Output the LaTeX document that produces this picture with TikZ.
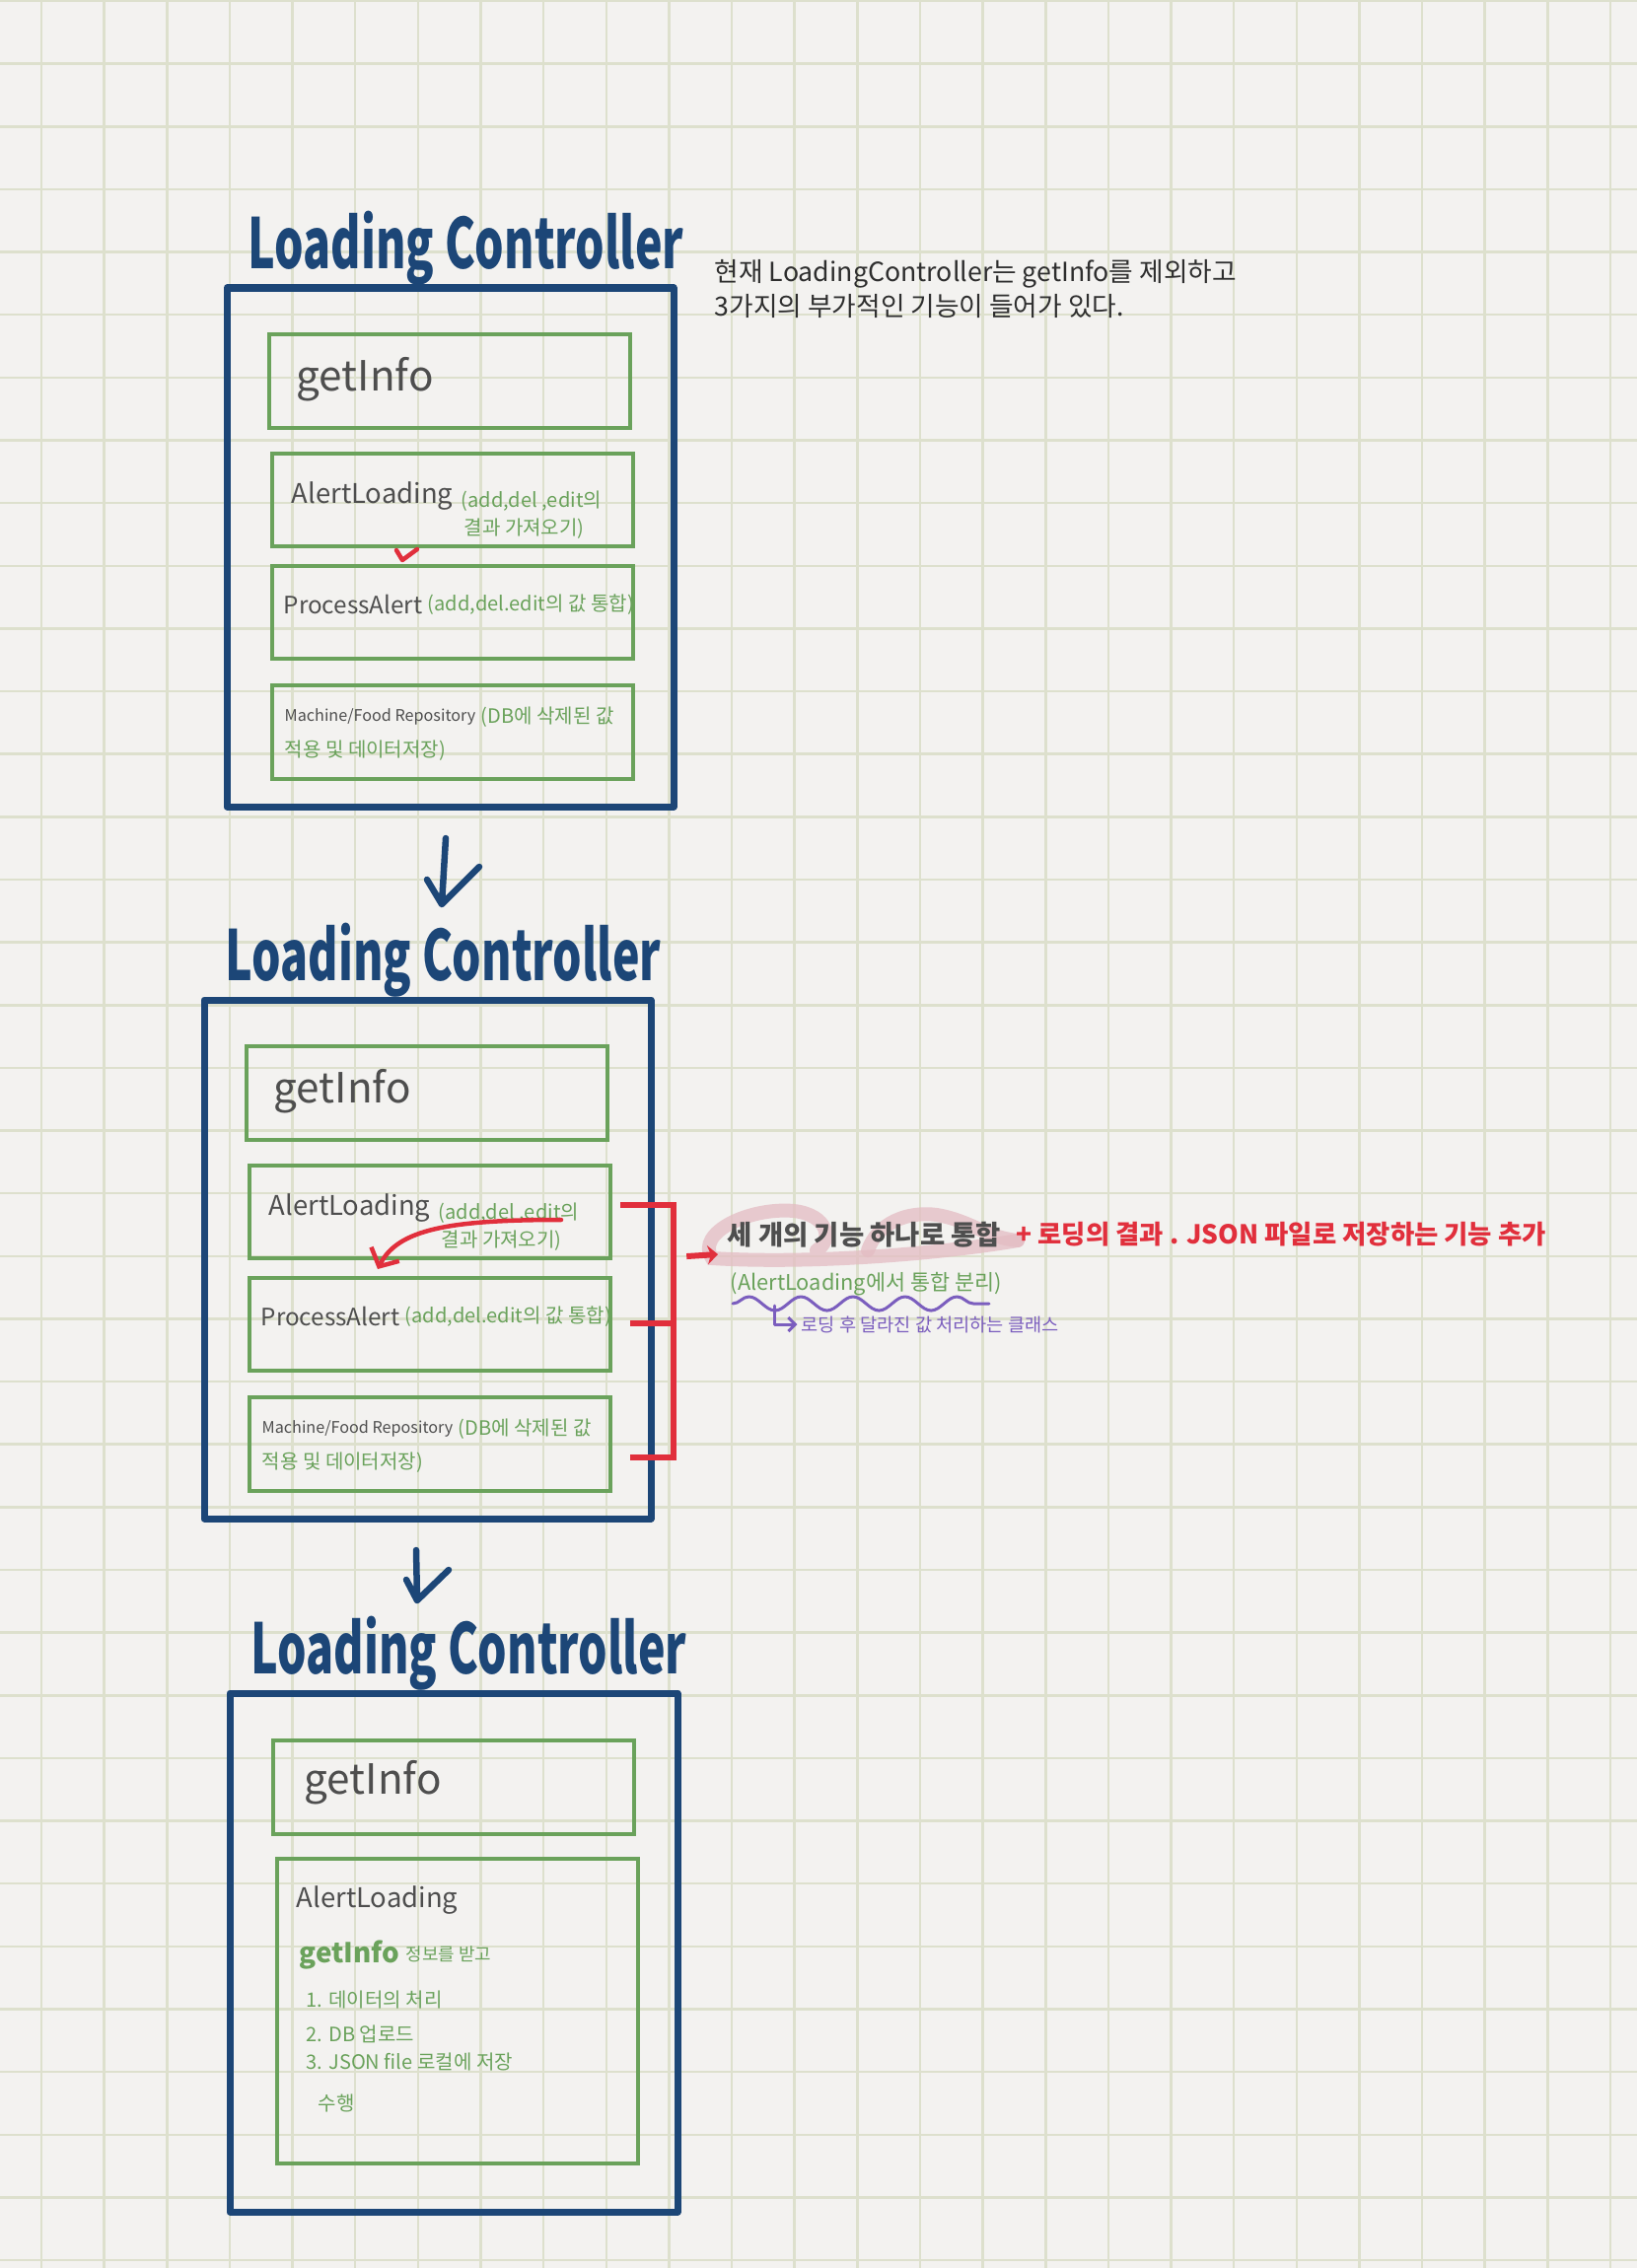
\documentclass[tikz,border=0pt]{standalone}
\usepackage{graphicx}
\usepackage{fontspec}
\setmainfont{Noto Sans CJK KR}
\usetikzlibrary{arrows.meta, positioning, decorations.pathmorphing}

\definecolor{paper}{HTML}{F3F2F0}
\definecolor{gridline}{HTML}{DDE0CD}
\definecolor{navy}{HTML}{1C4677}
\definecolor{leaf}{HTML}{6AA25B}
\definecolor{pencil}{HTML}{4E4E4E}
\definecolor{marker}{HTML}{E12F3C}
\definecolor{penviolet}{HTML}{7B5EBE}
\definecolor{blush}{HTML}{E4BCC3}
\definecolor{ink}{HTML}{2E2E2E}

\newcommand{\titlewords}{\scalebox{0.66}[1]{Loading Controller}}

\begin{document}
\begin{tikzpicture}[x=0.01cm,y=-0.01cm,
  sheet/.style={draw=gridline, line width=0.025cm},
  ctrlbox/.style={draw=navy, line width=0.07cm, line join=round},
  partbox/.style={draw=leaf, line width=0.04cm, anchor=north west, inner sep=0pt, minimum width=3.66cm, minimum height=0.94cm},
  handtitle/.style={anchor=base west, inner sep=0pt, text=navy, font=\fontsize{20}{20}\selectfont\bfseries},
  method/.style={anchor=west, inner sep=0pt, text=pencil, font=\fontsize{7.8}{9}\selectfont},
  bigmethod/.style={method, font=\fontsize{12}{14}\selectfont},
  remark/.style={anchor=west, inner sep=0pt, text=leaf, font=\fontsize{5.7}{7}\selectfont},
  grayline/.style={anchor=west, inner sep=0pt, text=pencil, font=\fontsize{7.8}{9}\selectfont\bfseries},
  redline/.style={anchor=west, inner sep=0pt, text=marker, font=\fontsize{7.5}{9}\selectfont\bfseries},
  violettext/.style={anchor=west, inner sep=0pt, text=penviolet, font=\fontsize{5.3}{6}\selectfont},
  navypen/.style={draw=navy, line width=0.065cm, line cap=round, line join=round},
  redpen/.style={draw=marker, line width=0.045cm, line cap=round, line join=round},
  bracket/.style={draw=marker, line width=0.065cm},
  violetpen/.style={draw=penviolet, line width=0.03cm, line cap=round, line join=round},
  highlight/.style={draw=blush, line width=0.14cm, line cap=round, opacity=0.75}]

% paper and grid
\fill[paper] (0,0) rectangle (1660,2300);
\useasboundingbox (0,0) rectangle (1660,2300);
\foreach \i in {0,...,25}
  \draw[sheet] ({42+63.64*\i},0) -- ++(0,2300);
\foreach \j in {0,...,36}
  \draw[sheet] (0,{1+63.64*\j}) -- ++(1660,0);

% first two states share the same four parts
\foreach \s/\dx/\dy in {a/0/0, b/-23/722}{
  \begin{scope}[shift={(\dx,\dy)}]
    \node[handtitle] (title-\s) at (251,272) {\titlewords};
    \draw[ctrlbox] (230,292) rectangle (683,818);
    \coordinate (ctrl-\s) at (456,818);
    \node[partbox, minimum height=0.95cm] (get-\s) at (271,337) {};
    \node[bigmethod] (getname-\s) at (300,385) {getInfo};
    \node[partbox] (alert-\s) at (274,458) {};
    \node[method] (alertname-\s) at (295,503) {AlertLoading};
    \node[remark, right=0.07cm of alertname-\s, yshift=-1.5pt] (alertnote-\s) {(add,del ,edit의};
    \node[remark] (alertnote2-\s) at (470,536) {결과 가져오기)};
    \node[partbox] (process-\s) at (274,572) {};
    \node[method, font=\fontsize{6.9}{8}\selectfont] (processname-\s) at (287,613) {ProcessAlert};
    \node[remark, right=0.04cm of processname-\s] (processnote-\s) {(add,del.edit의 값 통합)};
    \node[partbox, minimum height=0.95cm] (repo-\s) at (274,693) {};
    \node[method, font=\fontsize{4.6}{6}\selectfont] (reponame-\s) at (288,727) {Machine/Food Repository};
    \node[remark, right=0.04cm of reponame-\s] (reponote-\s) {(DB에 삭제된 값};
    \node[remark] (reponote2-\s) at (288,761) {적용 및 데이터저장)};
  \end{scope}
}

% third state
\begin{scope}[shift={(3,1425)}]
  \node[handtitle] (title-c) at (251,272) {\titlewords};
  \draw[ctrlbox] (230,292) rectangle (684,818);
  \node[partbox, minimum height=0.95cm] (get-c) at (272,338) {};
  \node[bigmethod] (getname-c) at (305,383) {getInfo};
  \node[partbox, minimum height=3.09cm] (alert-c) at (276,458) {};
\end{scope}
\node[method] (alertname-c) at (300,1927) {AlertLoading};
\node[remark, font=\fontsize{7.9}{9}\selectfont\bfseries] (infoname-c) at (303,1982) {getInfo};
\node[remark, font=\fontsize{5.1}{6}\selectfont, right=0.05cm of infoname-c] (infonote-c) {정보를 받고};
\node[remark] (step1-c) at (310,2028) {1. 데이터의 처리};
\node[remark] (step2-c) at (310,2063) {2. DB 업로드};
\node[remark] (step3-c) at (310,2091) {3. JSON file 로컬에 저장};
\node[remark] (step4-c) at (322,2133) {수행};

% hand drawn arrows between the states
\draw[navypen] ([shift={(-4,32)}]ctrl-a) -- ([shift={(-8,99)}]ctrl-a) coordinate (down-a)
  ++(-15,-25) -- (down-a) -- ++(38,-38);
\draw[navypen] ([shift={(-11,32)}]ctrl-b) -- ([shift={(-10,83)}]ctrl-b) coordinate (down-b)
  ++(-11,-21) -- (down-b) -- ++(32,-31);

% red marks
\draw[redpen] ([shift={(128,-14)}]process-a.north west) -- ++(6,10) -- ++(15,-11);
\draw[redpen, -{Straight Barb[length=4pt,width=9pt]}] ([shift={(318,57)}]alert-b.north west)
  .. controls +(-115,0) and +(20,-40) .. ([shift={(132,-7)}]process-b.north west);
\draw[bracket] ([shift={(8,-7)}]alert-b.east) -- ++(54,0) coordinate (brace-a) -- ++(0,256) -- ++(-44,0);
\draw[bracket] ([shift={(18,-1)}]process-b.east) -- ++(44,0);

% note on the right
\draw[highlight] (1032,1258) .. controls (950,1272) and (820,1282) .. (722,1276)
  .. controls (705,1250) and (760,1224) .. (805,1228) .. controls (840,1232) and (845,1258) .. (828,1268);
\draw[highlight] (880,1268) .. controls (890,1240) and (920,1228) .. (950,1232)
  .. controls (985,1238) and (1000,1255) .. (1032,1258);
\node[grayline] (merged) at (737,1252) {세 개의 기능 하나로 통합};
\node[redline, right=0.14cm of merged] (json) {+ 로딩의 결과 . JSON 파일로 저장하는 기능 추가};
\draw[marker, line width=0.06cm, -{Stealth[length=3pt,width=5.5pt]}] ([shift={(13,52)}]brace-a) -- ([shift={(-9,20)}]merged.west);
\node[remark, font=\fontsize{6.2}{8}\selectfont] (split) at (740,1302) {(AlertLoading에서 통합 분리)};
\draw[violetpen, decorate, decoration={snake, amplitude=2pt, segment length=15pt}] ([shift={(3,20)}]split.west) -- ++(260,0);
\node[violettext] (role) at (812,1343) {로딩 후 달라진 값 처리하는 클래스};
\draw[violetpen, -{Straight Barb[length=2pt,width=4pt]}] ([shift={(45,22)}]split.west) |- ([xshift=-1pt]role.west);

% summary text
\node[anchor=north west, inner sep=0pt, align=left, text=ink, font=\fontsize{7.6}{9.8}\selectfont] (summary) at (724,263)
  {현재 LoadingController는 getInfo를 제외하고\\3가지의 부가적인 기능이 들어가 있다.};
\end{tikzpicture}
\end{document}
